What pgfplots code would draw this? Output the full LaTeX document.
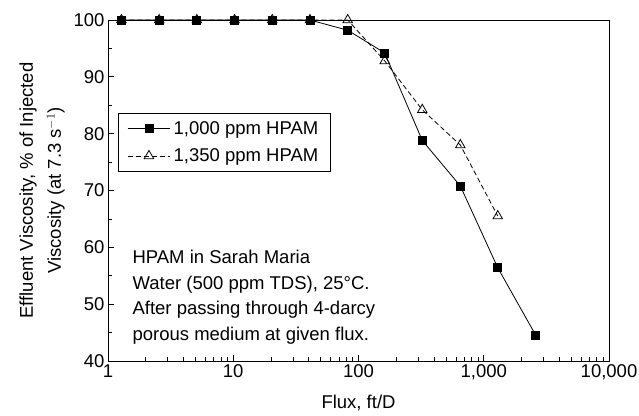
\documentclass[border=0pt]{standalone}
\usepackage{fontspec}
\setmainfont{Liberation Sans}
\usepackage{pgfplots}
\pgfplotsset{compat=1.18}

\begin{document}
\begin{tikzpicture}
\useasboundingbox (-108pt,-54pt) rectangle (531pt,361pt);
\begin{axis}[
    scale only axis, width=501pt, height=341pt,
    xmode=log, xmin=1, xmax=10000,
    ymin=40, ymax=100,
    xtick={1,10,100,1000,10000},
    xticklabels={1,10,100,{1,000},{10,000}},
    minor xtick={2,3,4,5,6,7,8,9,20,30,40,50,60,70,80,90,200,300,400,500,600,700,800,900,2000,3000,4000,5000,6000,7000,8000,9000},
    ytick={40,50,60,70,80,90,100},
    minor ytick={45,55,65,75,85,95},
    tick align=inside, xtick pos=lower, ytick pos=left,
    major tick length=6pt, minor tick length=4pt,
    tick style={black, line width=0.8pt},
    axis line style={line width=0.9pt},
    font=\fontsize{18.5}{22}\selectfont,
    /pgf/number format/assume math mode=true,
    xlabel={Flux, ft/D},
    xlabel style={yshift=-8pt},
    ylabel={Effluent Viscosity, \% of Injected\\[6pt]Viscosity (at 7.3 s$^{-1}$)},
    ylabel style={align=center, font=\fontsize{18.5}{22}\selectfont, yshift=2pt},
    legend style={at={(0.02,0.727)}, anchor=north west, draw=black,
        font=\fontsize{18.5}{22}\selectfont, row sep=7pt,
        inner xsep=9pt, inner ysep=5pt,
        nodes={inner sep=3pt}},
    legend cell align=left,
    reverse legend,
    legend image code/.code={\draw[mark repeat=2,mark phase=2,#1] plot coordinates {(0cm,0cm) (0.75cm,0cm) (1.5cm,0cm)};},
]
\addplot[black, line width=0.8pt, dash pattern=on 5pt off 3pt,
    mark=triangle, mark size=5.5pt, mark options={solid, fill=white}]
    coordinates {(1.28,100)(2.56,100)(5.12,100)(10.24,100)(20.48,100)(40.96,100)
                 (82,100)(162,92.8)(323,84.2)(650,78.0)(1294,65.5)};
\addlegendentry{1,350 ppm HPAM}
\addplot[black, line width=0.8pt, mark=square*, mark size=4pt]
    coordinates {(1.28,100)(2.56,100)(5.12,100)(10.24,100)(20.48,100)(40.96,100)
                 (82,98.2)(162,94.2)(323,78.8)(650,70.8)(1294,56.4)(2606,44.5)};
\addlegendentry{1,000 ppm HPAM}
\node[anchor=base west] at (rel axis cs:0.042,0.287) {HPAM in Sarah Maria};
\node[anchor=base west] at (rel axis cs:0.042,0.211) {Water (500 ppm TDS), 25°C.};
\node[anchor=base west] at (rel axis cs:0.042,0.135) {After passing through 4-darcy};
\node[anchor=base west] at (rel axis cs:0.042,0.059) {porous medium at given flux.};
\end{axis}
\end{tikzpicture}
\end{document}
